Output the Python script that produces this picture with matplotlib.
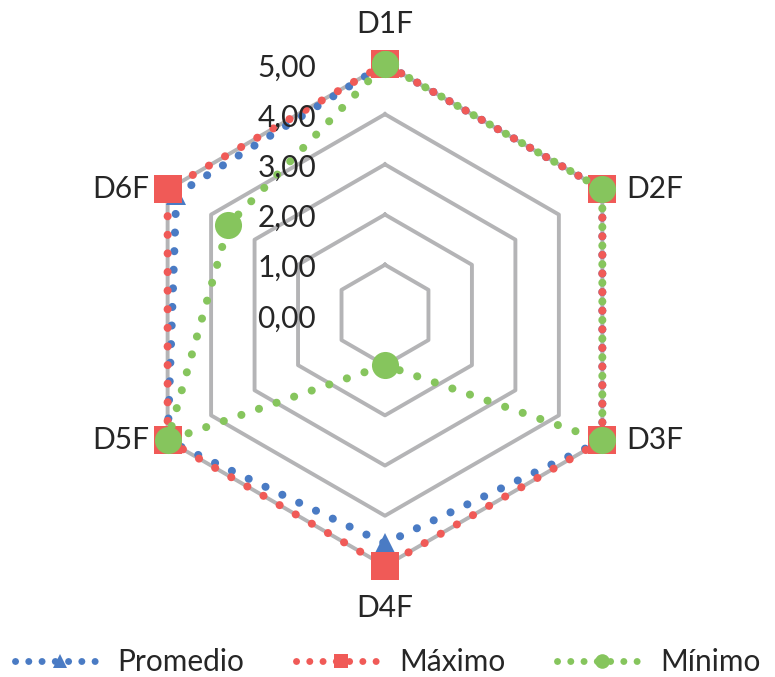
import numpy as np
import matplotlib
matplotlib.use('Agg')
import matplotlib.pyplot as plt
from matplotlib.lines import Line2D

# Datos del gráfico
categorias = ['D1F', 'D2F', 'D3F', 'D4F', 'D5F', 'D6F']
promedio = [5.0, 5.0, 5.0, 4.55, 5.0, 4.8]
maximo = [5.0, 5.0, 5.0, 5.0, 5.0, 5.0]
minimo = [5.0, 5.0, 5.0, 1.0, 5.0, 3.6]
niveles = [0, 1, 2, 3, 4, 5]
etiquetas_niveles = ['0,00', '1,00', '2,00', '3,00', '4,00', '5,00']

AZUL = '#4A7BC4'
ROJO = '#F05A57'
VERDE = '#86C55D'
GRIS = '#B4B4B6'
TEXTO = '#262626'
FUENTE = 21.5


def cerrar(valores):
    return list(valores) + [valores[0]]


def main():
    plt.rcParams['font.family'] = ['Lato', 'DejaVu Sans']
    fig = plt.figure(figsize=(7.75, 6.77), dpi=100)
    ax = fig.add_axes([0.1729, 0.164, 0.6477, 0.7415], projection='polar')
    ax.set_theta_offset(np.pi / 2)
    ax.set_theta_direction(-1)
    ax.set_ylim(0, 5)
    ax.grid(False)
    ax.spines['polar'].set_visible(False)
    ax.set_xticks([])
    ax.set_yticks([])

    angulos = np.linspace(0, 2 * np.pi, len(categorias), endpoint=False)
    ang = cerrar(angulos)

    # Rejilla hexagonal
    for n in niveles[1:]:
        ax.plot(ang, [n] * len(ang), color=GRIS, lw=2.8, zorder=1)

    # Etiquetas de nivel
    for n, txt in zip(niveles, etiquetas_niveles):
        ax.annotate(txt, xy=(0, n), xytext=(-49.5, -2.5), textcoords='offset points',
                    ha='right', va='center', fontsize=FUENTE, color=TEXTO, zorder=5)

    # Etiquetas de categorías
    pos = {
        'D1F': ((0, 29), 'center', 'center'),
        'D2F': ((17, 0), 'left', 'center'),
        'D3F': ((17, 0), 'left', 'center'),
        'D4F': ((0, -30), 'center', 'center'),
        'D5F': ((-13, 0), 'right', 'center'),
        'D6F': ((-13, 0), 'right', 'center'),
    }
    for a, cat in zip(angulos, categorias):
        off, ha, va = pos[cat]
        ax.annotate(cat, xy=(a, 5), xytext=off, textcoords='offset points',
                    ha=ha, va=va, fontsize=FUENTE, color=TEXTO, annotation_clip=False)

    # nombre, valores, color, marcador, tamaño, desfase del punteado
    series = [
        ('Promedio', promedio, AZUL, '^', 14.5, 0.0),
        ('Máximo', maximo, ROJO, 's', 19.5, 0.0),
        ('Mínimo', minimo, VERDE, 'o', 19.5, 1.15),
    ]
    handles = []
    for i, (nombre, vals, color, marker, ms, desfase) in enumerate(series):
        ax.plot(ang, cerrar(vals), color=color, lw=5.8, linestyle=(desfase, (0.01, 2.3)),
                dash_capstyle='round', marker=marker, markersize=ms,
                markeredgewidth=0, zorder=2 + i, clip_on=False)
        handles.append(Line2D([], [], color=color, lw=5.0, linestyle=(0, (0.01, 1.9)),
                              dash_capstyle='round', marker=marker,
                              markersize=10.5, markeredgewidth=0))

    fig.legend(handles, [s[0] for s in series], loc='center',
               bbox_to_anchor=(0.5, 0.022), ncol=3, frameon=False,
               fontsize=FUENTE, handlelength=3.0, handletextpad=0.43,
               columnspacing=1.75, labelcolor=TEXTO)

    fig.savefig('out.png', dpi=100)


if __name__ == '__main__':
    main()
